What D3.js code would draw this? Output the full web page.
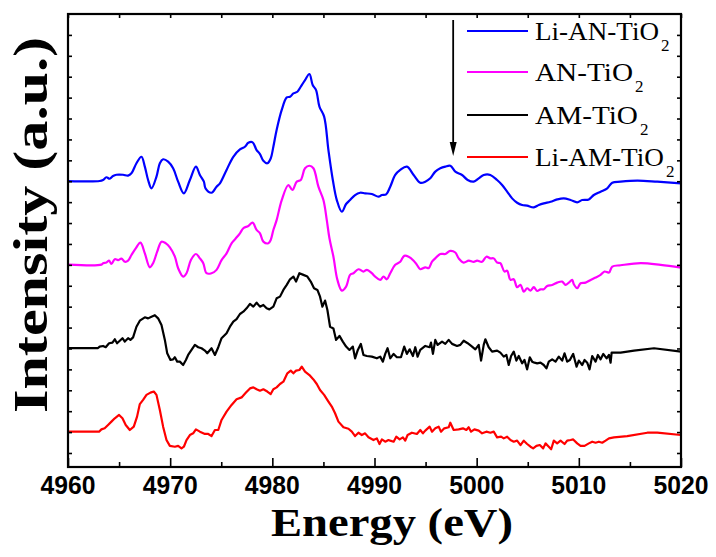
<!DOCTYPE html>
<html><head><meta charset="utf-8">
<script src="https://cdn.jsdelivr.net/npm/d3@7/dist/d3.min.js"></script>
<style>body{margin:0;background:#fff}svg{display:block}</style>
</head><body>
<svg id="chart" width="716" height="557"></svg>
<script>
// ---------- data ----------
const xMajorTicks = [4960, 4970, 4980, 4990, 5000, 5010, 5020];
const xMinorTicks = [4965, 4975, 4985, 4995, 5005, 5015];
const yTicks = d3.range(0, 21);
const seriesNames = ["Li-AN-TiO", "AN-TiO", "AM-TiO", "Li-AM-TiO"];
const seriesSub = ["2", "2", "2", "2"];
const xTitle = "Energy (eV)";
const yTitle = "Intensity (a.u.)";
const arrowEnergy = 4997.7;

const liAN = [[4960,13.01],[4963.1,13.01],[4963.43,13.06],[4963.76,13.19],[4964.08,13.12],[4964.41,13.25],[4964.74,13.31],[4965.39,13.31],[4965.88,13.27],[4966.21,13.38],[4966.7,13.86],[4967.19,14.17],[4967.52,13.7],[4967.84,13.06],[4968.17,12.66],[4968.66,13.22],[4968.99,13.86],[4969.31,14.05],[4969.8,13.94],[4970.29,13.62],[4970.78,12.98],[4971.34,12.42],[4971.93,13.06],[4972.52,13.7],[4972.91,13.3],[4973.3,12.98],[4973.46,12.66],[4974.05,12.45],[4974.54,12.74],[4974.87,12.9],[4975.52,13.54],[4976.18,14.17],[4976.83,14.52],[4977.32,14.65],[4977.65,14.84],[4978.07,14.86],[4978.46,14.49],[4978.79,14.3],[4979.12,13.98],[4979.51,13.86],[4979.84,14.09],[4980.1,14.65],[4980.42,15.45],[4980.92,16.41],[4981.41,17.01],[4981.73,17.04],[4982.06,17.2],[4982.45,17.28],[4982.78,17.52],[4983.2,17.84],[4983.63,18.13],[4983.95,17.6],[4984.28,17.36],[4984.61,16.57],[4985.07,16.09],[4985.49,14.49],[4985.92,13.06],[4986.31,12.1],[4986.8,11.54],[4987.22,11.91],[4987.61,12.1],[4988.1,12.34],[4988.59,12.45],[4989.08,12.42],[4989.74,12.39],[4990.39,12.26],[4990.72,12.34],[4991.14,12.37],[4991.54,12.74],[4992.03,13.3],[4992.52,13.54],[4993.17,13.7],[4993.83,13.3],[4994.48,12.93],[4994.97,12.98],[4995.46,13.14],[4995.95,13.46],[4996.44,13.62],[4996.93,13.7],[4997.42,13.74],[4997.91,13.46],[4998.57,13.3],[4999.12,13.06],[4999.71,12.98],[5000.2,13.14],[5000.69,13.3],[5001.34,13.3],[5002,13.06],[5002.49,12.82],[5002.98,12.5],[5003.47,12.18],[5003.96,11.97],[5004.45,11.86],[5004.94,11.83],[5005.59,11.75],[5006.08,11.86],[5006.57,11.94],[5007.23,12.02],[5007.88,12.13],[5008.53,12.18],[5009.19,12.1],[5009.84,11.99],[5010.33,12.1],[5010.98,12.13],[5011.47,12.34],[5012.13,12.5],[5012.78,12.66],[5013.27,12.93],[5014.09,12.98],[5015.72,13.03],[5017.68,12.98],[5020,12.9]];

const anT = [[4960,9.01],[4963.27,9.01],[4963.43,9.08],[4963.76,9.11],[4964.02,9.2],[4964.25,9.04],[4964.58,9.27],[4964.9,9.23],[4965.23,9.3],[4965.56,9.15],[4965.88,9.2],[4966.21,9.47],[4966.63,9.79],[4967.09,10.06],[4967.52,9.55],[4968.01,8.88],[4968.33,9.08],[4968.73,9.63],[4969.15,10.11],[4969.58,10.03],[4969.97,9.84],[4970.46,9.39],[4970.78,8.84],[4971.27,8.44],[4971.6,8.6],[4972.03,9.23],[4972.52,9.52],[4972.91,9.31],[4973.24,9.08],[4973.56,8.6],[4974.05,8.6],[4974.54,8.76],[4975.03,9.23],[4975.52,9.55],[4976.01,10.03],[4976.34,10.22],[4976.83,10.51],[4977.16,10.75],[4977.65,10.86],[4978.07,11.02],[4978.46,10.67],[4978.79,10.51],[4979.12,10.11],[4979.61,10.03],[4979.84,10.19],[4980.1,10.67],[4980.42,11.14],[4980.92,12.1],[4981.57,12.82],[4981.96,12.58],[4982.39,12.98],[4982.78,13.06],[4983.2,13.62],[4983.63,13.74],[4984.02,13.62],[4984.51,12.74],[4985,12.1],[4985.33,11.14],[4985.59,10.27],[4985.98,9.39],[4986.37,8.28],[4986.8,7.77],[4987.22,7.96],[4987.61,8.52],[4987.94,8.6],[4988.43,8.79],[4988.92,8.68],[4989.25,8.76],[4989.74,8.6],[4990.07,8.44],[4990.56,8.28],[4990.89,8.44],[4991.21,8.31],[4991.54,8.6],[4992.03,9],[4992.52,9.15],[4992.91,9.43],[4993.34,9.39],[4993.83,9.2],[4994.15,9],[4994.48,8.79],[4994.97,8.88],[4995.3,8.84],[4995.63,9.15],[4995.95,9.31],[4996.44,9.52],[4996.93,9.52],[4997.42,9.67],[4997.91,9.59],[4998.24,9.31],[4998.73,9.11],[4999.22,9.2],[4999.71,9.14],[5000.04,9.2],[5000.53,9.15],[5000.95,9.39],[5001.34,9.31],[5001.67,9.31],[5002,9.11],[5002.32,9.08],[5002.72,8.68],[5002.98,8.72],[5003.31,8.28],[5003.63,8.31],[5003.96,7.93],[5004.29,8.04],[5004.61,7.72],[5004.94,7.88],[5005.27,7.77],[5005.59,7.93],[5005.92,7.75],[5006.25,7.83],[5006.57,7.83],[5006.9,7.99],[5007.39,8.04],[5007.88,8.15],[5008.37,8.2],[5008.7,8.04],[5009.02,8.15],[5009.35,8.28],[5009.51,8.07],[5009.84,7.88],[5010.17,8.12],[5010.66,8.15],[5011.15,8.28],[5011.64,8.39],[5012.13,8.52],[5012.52,8.68],[5012.95,8.63],[5013.27,8.92],[5014.09,8.98],[5016.05,9.08],[5018.01,9],[5020,8.87]];

const amT = [[4960,5.02],[4962.94,5.02],[4963.1,5.09],[4963.43,5.12],[4963.69,5.06],[4964.02,5.25],[4964.35,5.28],[4964.58,5.44],[4964.8,5.25],[4965.07,5.37],[4965.33,5.49],[4965.56,5.33],[4965.88,5.49],[4966.11,5.41],[4966.37,5.53],[4966.7,6.04],[4967.03,6.33],[4967.52,6.49],[4967.84,6.44],[4968.17,6.52],[4968.5,6.59],[4968.82,6.44],[4969.15,6.12],[4969.48,5.41],[4969.71,4.77],[4970.03,4.45],[4970.29,4.48],[4970.46,4.58],[4970.69,4.37],[4970.95,4.37],[4971.27,4.21],[4971.54,4.45],[4971.76,4.69],[4972.09,4.93],[4972.42,5.17],[4972.75,5.06],[4973.07,5.01],[4973.4,4.9],[4973.63,4.77],[4974.05,5.01],[4974.38,4.69],[4974.71,5.06],[4975.03,5.49],[4975.52,5.73],[4975.85,6.04],[4976.18,6.28],[4976.5,6.4],[4976.83,6.65],[4977.16,6.76],[4977.48,6.92],[4977.81,7.13],[4978.14,7],[4978.46,7.19],[4978.79,7],[4979.12,7.08],[4979.44,6.92],[4979.71,6.87],[4980.1,7],[4980.42,7.4],[4980.75,7.48],[4981.08,7.8],[4981.41,8.04],[4981.73,8.31],[4982.06,8.44],[4982.32,8.2],[4982.65,8.6],[4983.04,8.52],[4983.43,8.44],[4983.76,8.2],[4984.08,7.88],[4984.41,7.8],[4984.67,7.48],[4984.9,7],[4985.16,7.29],[4985.39,6.84],[4985.65,6.04],[4985.98,5.96],[4986.24,5.41],[4986.57,5.6],[4986.9,5.33],[4987.22,5.09],[4987.55,4.93],[4987.88,5.09],[4988.1,4.53],[4988.37,4.93],[4988.66,5.22],[4988.92,4.69],[4989.25,4.64],[4989.74,4.61],[4990.23,4.53],[4990.56,4.61],[4990.82,4.37],[4991.05,4.74],[4991.28,5.01],[4991.54,4.53],[4991.87,4.74],[4992.19,4.58],[4992.59,4.58],[4992.91,5.09],[4993.17,4.74],[4993.44,4.96],[4993.76,4.64],[4993.99,5.06],[4994.22,4.61],[4994.48,4.93],[4994.97,5.12],[4995.4,5.06],[4995.53,5.28],[4995.72,4.74],[4995.95,5.41],[4996.18,5.17],[4996.61,5.33],[4996.93,5.22],[4997.26,5.41],[4997.59,5.22],[4998.08,5.12],[4998.4,5.17],[4998.73,5.37],[4999.12,5.25],[4999.55,5.09],[4999.87,4.96],[5000.2,5.17],[5000.43,4.42],[5000.69,5.17],[5000.85,5.44],[5001.18,5.06],[5001.51,4.85],[5002,4.9],[5002.32,4.8],[5002.65,4.61],[5002.91,4.69],[5003.14,4.21],[5003.37,4.64],[5003.63,4.85],[5003.89,4.42],[5004.12,4.64],[5004.45,4.29],[5004.68,4.45],[5004.94,4],[5005.2,4.58],[5005.43,4.37],[5005.66,4.32],[5005.92,4.29],[5006.25,4.32],[5006.57,4.21],[5006.83,4.05],[5007.06,4.37],[5007.39,4.48],[5007.72,4.37],[5008.04,4.61],[5008.37,4.42],[5008.6,4.77],[5008.86,4.37],[5009.12,4.45],[5009.45,4.74],[5009.78,4.13],[5010,4.42],[5010.33,4.21],[5010.56,4.45],[5010.82,4.32],[5011.05,4],[5011.31,4.64],[5011.64,4.37],[5011.87,4.69],[5012.13,4.48],[5012.39,4.74],[5012.72,4.53],[5012.95,4.69],[5013.11,4.32],[5013.21,4.8],[5014.09,4.8],[5015.4,4.9],[5017.36,5.01],[5020,4.85]];

const liAM = [[4960,1.02],[4963.04,1.02],[4963.27,1.13],[4963.59,1.18],[4963.92,1.34],[4964.25,1.5],[4964.58,1.66],[4965,1.82],[4965.33,1.66],[4965.65,1.34],[4966.05,1.1],[4966.44,1.26],[4966.76,1.74],[4967.03,2.34],[4967.35,2.54],[4967.68,2.78],[4968.07,2.89],[4968.4,2.94],[4968.66,2.78],[4968.99,2.06],[4969.31,1.26],[4969.64,0.62],[4969.97,0.34],[4970.46,0.3],[4970.78,0.34],[4971.11,0.22],[4971.34,0.3],[4971.6,0.62],[4971.93,0.86],[4972.25,0.94],[4972.52,1.13],[4972.91,1.02],[4973.4,0.91],[4973.73,0.91],[4974.05,0.81],[4974.38,1.1],[4974.71,1.1],[4975.03,1.58],[4975.52,1.98],[4976.01,2.3],[4976.5,2.57],[4976.99,2.66],[4977.42,2.89],[4977.81,3.09],[4978.14,3.14],[4978.46,3.05],[4978.79,2.98],[4979.12,3.05],[4979.51,2.94],[4979.84,2.82],[4980.1,3.05],[4980.42,3.14],[4980.75,3.3],[4981.08,3.41],[4981.47,3.81],[4981.8,3.94],[4982.06,3.81],[4982.32,3.94],[4982.65,3.97],[4982.88,4.13],[4983.2,3.89],[4983.63,3.73],[4984.02,3.52],[4984.35,3.3],[4984.67,3.01],[4985.07,2.78],[4985.49,2.46],[4985.82,2.22],[4986.14,1.9],[4986.47,1.5],[4986.96,1.23],[4987.45,1.16],[4987.78,1.02],[4988.1,0.81],[4988.43,0.97],[4988.76,0.86],[4989.08,0.94],[4989.41,0.75],[4989.9,0.62],[4990.23,0.7],[4990.49,0.43],[4990.72,0.65],[4991.05,0.54],[4991.37,0.62],[4991.54,0.59],[4991.87,0.54],[4992.13,0.78],[4992.46,0.65],[4992.78,0.75],[4993.01,0.59],[4993.24,0.86],[4993.66,0.97],[4994.15,0.91],[4994.48,1.1],[4994.74,0.94],[4994.97,1.07],[4995.4,1.26],[4995.63,1.02],[4995.95,1.18],[4996.28,1.26],[4996.51,1.02],[4996.83,1.18],[4997.26,1.23],[4997.42,1.45],[4997.75,1.1],[4998.24,1.13],[4998.66,1.18],[4998.99,1.1],[4999.22,1.23],[4999.45,1.02],[4999.78,1.13],[5000.2,1.07],[5000.53,0.94],[5000.95,1.02],[5001.34,0.97],[5001.67,1.02],[5002,0.75],[5002.39,0.78],[5002.65,0.7],[5002.98,0.78],[5003.31,0.62],[5003.63,0.54],[5003.96,0.59],[5004.29,0.38],[5004.61,0.59],[5004.94,0.43],[5005.27,0.3],[5005.53,0.22],[5005.85,0.34],[5006.18,0.38],[5006.51,0.22],[5006.74,0.46],[5007.06,0.3],[5007.29,0.18],[5007.55,0.59],[5007.88,0.46],[5008.21,0.59],[5008.6,0.43],[5008.86,0.59],[5009.19,0.62],[5009.45,0.65],[5009.84,0.46],[5010.17,0.34],[5010.56,0.34],[5010.98,0.46],[5011.31,0.54],[5011.64,0.49],[5011.96,0.54],[5012.29,0.49],[5012.62,0.59],[5012.95,0.7],[5013.44,0.75],[5014.74,0.81],[5016.7,0.97],[5017.68,0.97],[5020,0.86]];

const seriesData = [liAN, anT, amT, liAM];
const seriesColors = ["#0000ff", "#ff00ff", "#000000", "#ff0000"];

// ---------- layout ----------
const L = 68, R = 681, T = 14, B = 467;
const svg = d3.select("#chart");
const x = d3.scaleLinear().domain([4960, 5020]).range([L, R]);
const y = d3.scaleLinear().domain([-0.67, 21]).range([B, T]);

// series
const line = d3.line().x(d => x(d[0])).y(d => y(d[1]));
const smooth = [true, true, false, false];
seriesData.forEach((s, i) => {
  svg.append("path")
    .attr("d", line.curve(smooth[i] ? d3.curveCatmullRom.alpha(0.5) : d3.curveLinear)(s))
    .attr("fill", "none")
    .attr("stroke", seriesColors[i])
    .attr("stroke-width", 2.2)
    .attr("stroke-linejoin", "round");
});

// axes (ticks)
function cleanAxis(g) { g.select(".domain").remove(); g.selectAll("line").attr("stroke", "#000").attr("stroke-width", 1.6); }
svg.append("g").attr("transform", `translate(0,${B})`)
  .call(d3.axisBottom(x).tickValues(xMajorTicks).tickSize(-9).tickFormat(""))
  .call(cleanAxis);
svg.append("g").attr("transform", `translate(0,${B})`)
  .call(d3.axisBottom(x).tickValues(xMinorTicks).tickSize(-5).tickFormat(""))
  .call(cleanAxis);
svg.append("g").attr("transform", `translate(0,${T})`)
  .call(d3.axisTop(x).tickValues(xMajorTicks.concat(xMinorTicks)).tickSize(-4).tickFormat(""))
  .call(cleanAxis);
svg.append("g").attr("transform", `translate(${L},0)`)
  .call(d3.axisLeft(y).tickValues(yTicks).tickSize(-4).tickFormat(""))
  .call(cleanAxis);
svg.append("g").attr("transform", `translate(${R},0)`)
  .call(d3.axisRight(y).tickValues(yTicks).tickSize(-4).tickFormat(""))
  .call(cleanAxis);

// frame
svg.append("rect").attr("x", L).attr("y", T).attr("width", R - L).attr("height", B - T)
  .attr("fill", "none").attr("stroke", "#000").attr("stroke-width", 2.2);

// tick labels
svg.append("g").selectAll("text").data(xMajorTicks).join("text")
  .attr("x", d => x(d)).attr("y", 494)
  .attr("text-anchor", "middle")
  .attr("font-family", "'Liberation Sans', Arial, sans-serif")
  .attr("font-weight", "bold").attr("font-size", 25)
  .attr("textLength", 55).attr("lengthAdjust", "spacingAndGlyphs")
  .text(d => d);

// axis titles
svg.append("text").attr("x", 271).attr("y", 536)
  .attr("font-family", "'Liberation Serif', 'Times New Roman', serif")
  .attr("font-weight", "bold").attr("font-size", 40)
  .attr("textLength", 242).attr("lengthAdjust", "spacingAndGlyphs")
  .text(xTitle);
svg.append("text").attr("transform", "translate(47,413) rotate(-90)")
  .attr("font-family", "'Liberation Serif', 'Times New Roman', serif")
  .attr("font-weight", "bold").attr("font-size", 48)
  .attr("textLength", 376).attr("lengthAdjust", "spacingAndGlyphs")
  .text(yTitle);

// legend
const legendY = [31, 72, 115, 157];
const legendW = [124, 98, 103, 129];
seriesNames.forEach((n, i) => {
  svg.append("line").attr("x1", 467).attr("x2", 528).attr("y1", legendY[i]).attr("y2", legendY[i])
    .attr("stroke", seriesColors[i]).attr("stroke-width", 1.8);
  const t = svg.append("text").attr("x", 535).attr("y", legendY[i] + 9)
    .attr("font-family", "'Liberation Serif', 'Times New Roman', serif")
    .attr("font-size", 26);
  t.append("tspan").attr("textLength", legendW[i]).attr("lengthAdjust", "spacingAndGlyphs").text(n);
  t.append("tspan").attr("x", 537 + legendW[i]).attr("dy", 11).attr("font-size", 17).text(seriesSub[i]);
});

// arrow
const ax = x(arrowEnergy);
svg.append("line").attr("x1", ax).attr("x2", ax).attr("y1", 20).attr("y2", 146)
  .attr("stroke", "#000").attr("stroke-width", 1.8);
svg.append("path").attr("d", `M${ax - 3.5},${142} L${ax + 3.5},${142} L${ax},${156} Z`).attr("fill", "#000");
</script>
</body></html>
